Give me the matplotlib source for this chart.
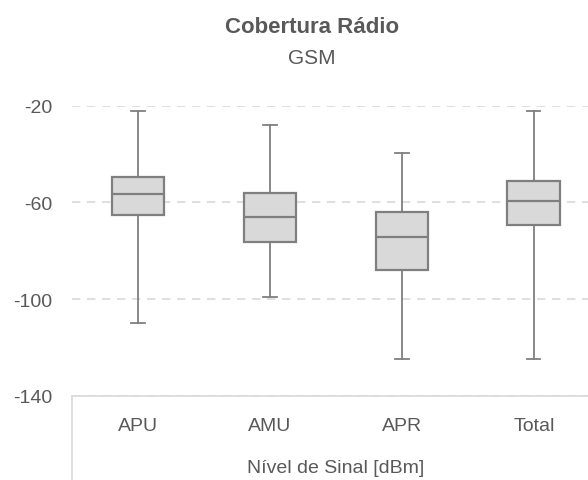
# Cobertura Radio - GSM boxplot
import matplotlib
matplotlib.use("Agg")
import matplotlib.pyplot as plt
from matplotlib.lines import Line2D

plt.rcParams['font.family'] = ['Liberation Sans Narrow', 'Liberation Sans', 'DejaVu Sans']

categorias = ["APU", "AMU", "APR", "Total"]
whis_max = [-22.3, -28.0, -39.5, -22.3]
q3       = [-49.4, -56.2, -63.9, -51.1]
mediana  = [-56.7, -66.2, -74.1, -59.6]
q1       = [-65.1, -76.4, -88.1, -69.2]
whis_min = [-110.0, -98.9, -124.8, -124.8]
yticks   = [-20, -60, -100, -140]

cinza = "#7f7f7f"
texto = "#595959"
grelha = "#d9d9d9"

stats = []
for i, c in enumerate(categorias):
    stats.append(dict(label=c, whislo=whis_min[i], q1=q1[i], med=mediana[i],
                      q3=q3[i], whishi=whis_max[i], fliers=[]))

fig = plt.figure(figsize=(5.88, 4.81), dpi=100)
W, H = 588.0, 481.0
left, right, top, bottom = 72, 588, 106.7, 397
ax = fig.add_axes([left / W, 1 - bottom / H, (right - left) / W, (bottom - top) / H])

ax.bxp(stats, positions=range(len(categorias)), widths=0.4, capwidths=0.1,
       showfliers=False, patch_artist=True,
       boxprops=dict(facecolor=grelha, edgecolor=cinza, linewidth=1.6),
       medianprops=dict(color=cinza, linewidth=1.6),
       whiskerprops=dict(color=cinza, linewidth=1.3),
       capprops=dict(color=cinza, linewidth=1.3))

ax.set_xlim(-0.5, 3.41)
ax.set_ylim(-140, -20)
ax.set_yticks(yticks)
ax.set_yticklabels([str(t) for t in yticks])
ax.set_xticks([])
for s in ["top", "right", "left"]:
    ax.spines[s].set_visible(False)
ax.spines["bottom"].set_color(grelha)
ax.spines["bottom"].set_linewidth(1.2)
ax.tick_params(axis="y", length=0, pad=14.4, labelsize=14, labelcolor=texto)
ax.yaxis.grid(True, color=grelha, linestyle=(0, (5, 4)), linewidth=1.2)
ax.set_axisbelow(True)

# category labels below the axis
for i, c in enumerate(categorias):
    ax.text(i, -140 - 30 / 2.42, c, ha="center", va="center",
            fontsize=14, color=texto, clip_on=False)

fig.add_artist(Line2D([left / W, left / W], [0, 1 - bottom / H],
                      color=grelha, linewidth=1.2))

fig.text(336 / W, 1 - 469 / H, "Nível de Sinal [dBm]", ha="center", va="center",
         fontsize=14, color=texto)
fig.text(312 / W, 1 - 27.5 / H, "Cobertura Rádio", ha="center", va="center",
         fontsize=16, fontweight="bold", color=texto)
fig.text(312 / W, 1 - 58 / H, "GSM", ha="center", va="center",
         fontsize=15, color=texto)

fig.savefig("out.png", dpi=100)
